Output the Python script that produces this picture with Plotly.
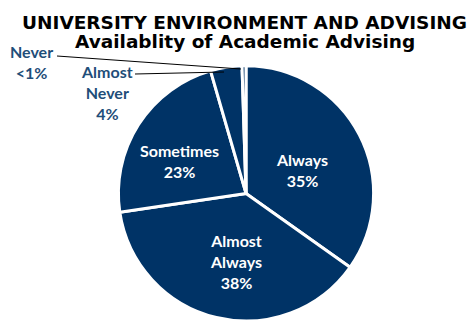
import plotly.graph_objects as go

labels = ["Always", "Almost Always", "Sometimes", "Almost Never", "Never"]
values = [35, 38, 23, 4, 0.5]
display = ["Always<br>35%", "Almost<br>Always<br>38%", "Sometimes<br>23%", "Almost<br>Never<br>4%", "Never<br><1%"]
label_pos = [(302, 170), (236, 261), (179, 161), (107, 93), (31, 62)]
label_color = ["white", "white", "white", "#1F4E79", "#1F4E79"]

W, H = 469, 321
NAVY = "#003366"
FONT = "Lato"

fig = go.Figure(go.Pie(
    labels=labels, values=values,
    textinfo="none",
    sort=False, direction="clockwise", rotation=0,
    marker=dict(colors=[NAVY] * 5, line=dict(color="white", width=3)),
    domain=dict(x=[118 / W, 374 / W], y=[0, 0.795]),
    showlegend=False, hoverinfo="skip",
))

def px(x, y):
    return x / W, 1 - y / H

ann = []
for txt, y in [("UNIVERSITY ENVIRONMENT AND ADVISING", 22), ("Availablity of Academic Advising", 41)]:
    tx, ty = px(245, y)
    ann.append(dict(x=tx, y=ty, text=txt, showarrow=False, xref="paper", yref="paper",
                    xanchor="center", yanchor="middle",
                    font=dict(family="DejaVu Sans", size=18.5, color="black", weight="bold")))

for txt, (x, y), c in zip(display, label_pos, label_color):
    ax_, ay_ = px(x, y)
    ann.append(dict(x=ax_, y=ay_, text=txt, showarrow=False, xref="paper", yref="paper",
                    xanchor="center", yanchor="middle",
                    font=dict(family=FONT, size=16, color=c, weight="bold")))

shapes = []
for (x0, y0, x1, y1) in [(57, 56, 241, 69), (135, 74, 224, 72)]:
    a0, b0 = px(x0, y0)
    a1, b1 = px(x1, y1)
    shapes.append(dict(type="line", xref="paper", yref="paper", x0=a0, y0=b0, x1=a1, y1=b1,
                       line=dict(color="black", width=1)))

fig.update_layout(width=W, height=H, margin=dict(l=0, r=0, t=0, b=0),
                  paper_bgcolor="white", plot_bgcolor="white",
                  annotations=ann, shapes=shapes)
fig.write_html("out.html", config={"displayModeBar": False},
               post_script="document.body.style.margin='0';")
